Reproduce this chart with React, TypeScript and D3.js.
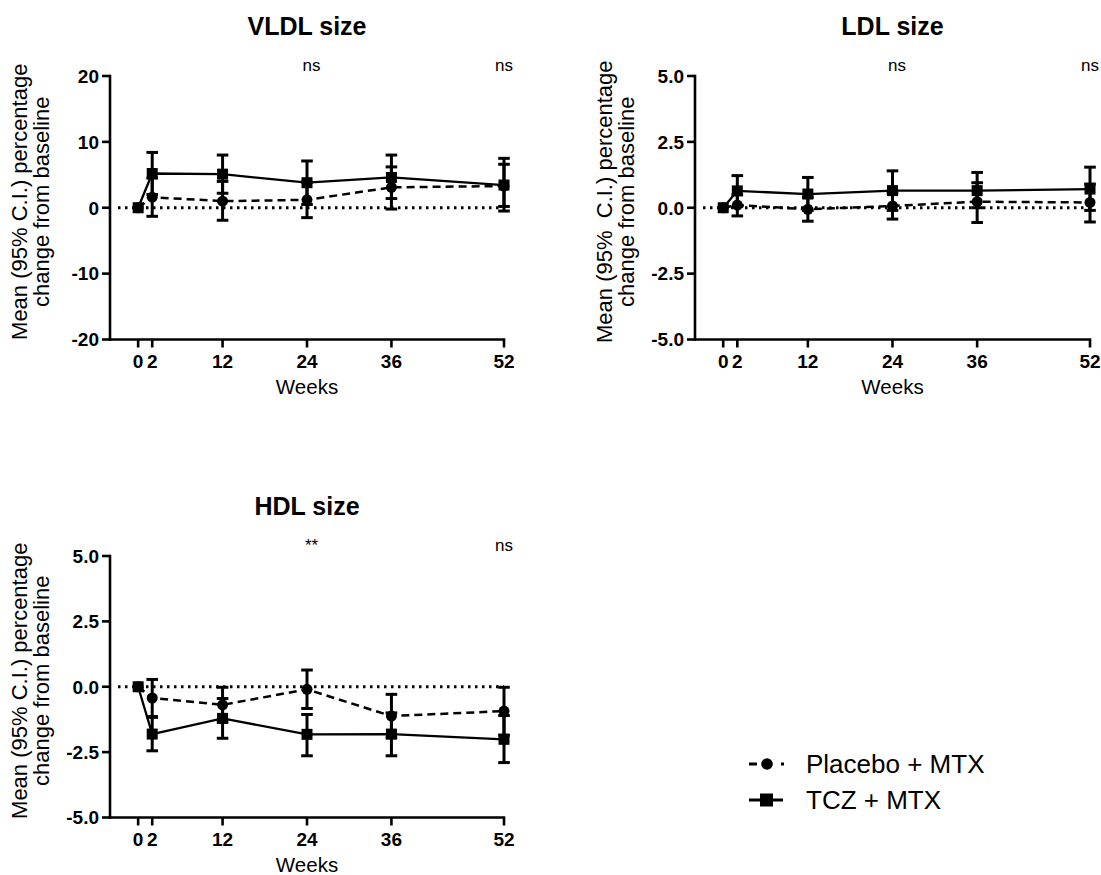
import React from "react";
import * as d3 from "d3";

// ---------- data ----------
const weeks = [0, 2, 12, 24, 36, 52];
const weekTickLabels = ["0", "2", "12", "24", "36", "52"];

const vldlPlacebo = [0, 1.6, 1.0, 1.2, 3.1, 3.3];
const vldlPlaceboLo = [0, -1.3, -1.9, -1.5, -0.2, 0.2];
const vldlPlaceboHi = [0, 4.5, 4.0, 3.9, 6.2, 6.6];
const vldlTcz = [0, 5.2, 5.1, 3.8, 4.6, 3.45];
const vldlTczLo = [0, 2.0, 2.2, 0.5, 1.4, -0.5];
const vldlTczHi = [0, 8.4, 8.0, 7.1, 8.0, 7.5];

const ldlPlacebo = [0, 0.1, -0.06, 0.07, 0.23, 0.2];
const ldlPlaceboLo = [0, -0.31, -0.51, -0.43, -0.56, -0.54];
const ldlPlaceboHi = [0, 0.5, 0.4, 0.55, 0.95, 0.9];
const ldlTcz = [0, 0.64, 0.52, 0.65, 0.65, 0.71];
const ldlTczLo = [0, 0.05, -0.1, -0.1, 0.0, -0.1];
const ldlTczHi = [0, 1.22, 1.15, 1.4, 1.34, 1.54];

const hdlPlacebo = [0, -0.43, -0.69, -0.1, -1.12, -0.93];
const hdlPlaceboLo = [0, -1.14, -1.35, -0.83, -1.95, -1.85];
const hdlPlaceboHi = [0, 0.28, -0.02, 0.64, -0.29, -0.02];
const hdlTcz = [0, -1.81, -1.21, -1.82, -1.81, -2.01];
const hdlTczLo = [0, -2.45, -1.97, -2.64, -2.64, -2.9];
const hdlTczHi = [0, -1.17, -0.45, -1.06, -1.0, -1.1];

const vldlTicks = [-20, -10, 0, 10, 20];
const sizeTicks = [-5, -2.5, 0, 2.5, 5];

const annotationWeeks = [24, 52];
const vldlAnnot = ["ns", "ns"];
const ldlAnnot = ["ns", "ns"];
const hdlAnnot = ["**", "ns"];

const seriesNames = ["Placebo + MTX", "TCZ + MTX"];

const FONT = "'Liberation Sans', Arial, Helvetica, sans-serif";

type Series = { v: number[]; lo: number[]; hi: number[] };

interface PanelProps {
  title: string;
  left: number;
  right: number;
  top: number;
  bottom: number;
  yDomain: [number, number];
  yTicks: number[];
  fmt: (d: number) => string;
  placebo: Series;
  tcz: Series;
  annot: string[];
  ylabel1: string;
}

function Panel(p: PanelProps) {
  const x = d3.scaleLinear().domain([-4, 52]).range([p.left, p.right]);
  const y = d3.scaleLinear().domain(p.yDomain).range([p.bottom, p.top]);
  const cx = (p.left + p.right) / 2;
  const cy = (p.top + p.bottom) / 2 - 6;
  const line = d3
    .line<number>()
    .x((_, i) => x(weeks[i]))
    .y((d) => y(d));

  const errBars = (s: Series, key: string) =>
    weeks.map((w, i) =>
      s.lo[i] === s.hi[i] ? null : (
        <g key={key + i} stroke="#000" strokeWidth={3}>
          <line x1={x(w)} x2={x(w)} y1={y(s.lo[i])} y2={y(s.hi[i])} />
          <line x1={x(w) - 5.8} x2={x(w) + 5.8} y1={y(s.lo[i])} y2={y(s.lo[i])} />
          <line x1={x(w) - 5.8} x2={x(w) + 5.8} y1={y(s.hi[i])} y2={y(s.hi[i])} />
        </g>
      )
    );

  return (
    <g fontFamily={FONT}>
      <text x={cx} y={p.top - 41} textAnchor="middle" fontSize={25} fontWeight="bold">
        {p.title}
      </text>
      {annotationWeeks.map((w, i) => (
        <text
          key={"a" + i}
          x={x(w) + (i === 0 ? 4.5 : 0)}
          y={p.top - 5}
          textAnchor="middle"
          fontSize={17}
        >
          {p.annot[i]}
        </text>
      ))}
      {/* zero reference */}
      <line
        x1={p.left + 8}
        x2={x(52)}
        y1={y(0)}
        y2={y(0)}
        stroke="#000"
        strokeWidth={2.8}
        strokeDasharray="2.5 4.5"
      />
      {/* axes */}
      <line x1={p.left} x2={p.left} y1={p.top - 1.2} y2={p.bottom + 1.2} stroke="#000" strokeWidth={2.6} />
      <line x1={p.left - 1.2} x2={x(52) + 1.2} y1={p.bottom} y2={p.bottom} stroke="#000" strokeWidth={2.6} />
      {p.yTicks.map((t) => (
        <g key={"yt" + t}>
          <line x1={p.left - 8} x2={p.left} y1={y(t)} y2={y(t)} stroke="#000" strokeWidth={2.6} />
          <text
            x={p.left - 11}
            y={y(t)}
            dy="0.36em"
            textAnchor="end"
            fontSize={19}
            fontWeight="bold"
          >
            {p.fmt(t)}
          </text>
        </g>
      ))}
      {weeks.map((w, i) => (
        <g key={"xt" + w}>
          <line x1={x(w)} x2={x(w)} y1={p.bottom} y2={p.bottom + 8} stroke="#000" strokeWidth={2.6} />
          <text x={x(w)} y={p.bottom + 28.5} textAnchor="middle" fontSize={19} fontWeight="bold">
            {weekTickLabels[i]}
          </text>
        </g>
      ))}
      <text x={cx} y={p.bottom + 54} textAnchor="middle" fontSize={20.5}>
        Weeks
      </text>
      <text
        transform={`translate(${p.left - 83},${cy}) rotate(-90)`}
        textAnchor="middle"
        fontSize={22}
        style={{ whiteSpace: "pre" }}
      >
        {p.ylabel1}
      </text>
      <text
        transform={`translate(${p.left - 61},${cy}) rotate(-90)`}
        textAnchor="middle"
        fontSize={22}
      >
        change from baseline
      </text>
      {/* error bars */}
      {errBars(p.placebo, "pe")}
      {errBars(p.tcz, "te")}
      {/* lines */}
      <path d={line(p.placebo.v) || ""} fill="none" stroke="#000" strokeWidth={2.5} strokeDasharray="8 5" />
      <path d={line(p.tcz.v) || ""} fill="none" stroke="#000" strokeWidth={2.3} />
      {/* markers */}
      {weeks.map((w, i) => (
        <circle key={"pc" + i} cx={x(w)} cy={y(p.placebo.v[i])} r={5.5} fill="#000" />
      ))}
      {weeks.map((w, i) => (
        <rect
          key={"tr" + i}
          x={x(w) - 5.5}
          y={y(p.tcz.v[i]) - 5.5}
          width={11}
          height={11}
          fill="#000"
        />
      ))}
    </g>
  );
}

function Legend() {
  const lx = 749;
  const ly1 = 764;
  const ly2 = 800;
  return (
    <g fontFamily={FONT}>
      <line x1={lx} x2={lx + 8} y1={ly1} y2={ly1} stroke="#000" strokeWidth={3} />
      <circle cx={lx + 18} cy={ly1} r={5.8} fill="#000" />
      <rect x={lx + 32} y={ly1 - 1.5} width={3} height={3} fill="#000" />
      <text x={806} y={ly1 + 9} fontSize={26}>
        {seriesNames[0]}
      </text>
      <line x1={lx} x2={lx + 34} y1={ly2} y2={ly2} stroke="#000" strokeWidth={3} />
      <rect x={lx + 11} y={ly2 - 6.5} width={13} height={13} fill="#000" />
      <text x={806} y={ly2 + 9} fontSize={26}>
        {seriesNames[1]}
      </text>
    </g>
  );
}

export default function App() {
  const hy = (s: string) => s.replace(/\u2212/g, "-");
  const f0 = (d: number) => hy(d3.format("d")(d));
  const f1 = (d: number) => hy(d3.format(".1f")(d));
  return (
    <svg
      width={1101}
      height={875}
      style={{ position: "absolute", left: 0, top: 0, background: "#fff" }}
    >
      <rect width={1101} height={875} fill="#fff" />
      <Panel
        title="VLDL size"
        left={110}
        right={504}
        top={76}
        bottom={339.5}
        yDomain={[-20, 20]}
        yTicks={vldlTicks}
        fmt={f0}
        placebo={{ v: vldlPlacebo, lo: vldlPlaceboLo, hi: vldlPlaceboHi }}
        tcz={{ v: vldlTcz, lo: vldlTczLo, hi: vldlTczHi }}
        annot={vldlAnnot}
        ylabel1="Mean (95% C.I.) percentage"
      />
      <Panel
        title="LDL size"
        left={695}
        right={1090}
        top={76}
        bottom={339.5}
        yDomain={[-5, 5]}
        yTicks={sizeTicks}
        fmt={f1}
        placebo={{ v: ldlPlacebo, lo: ldlPlaceboLo, hi: ldlPlaceboHi }}
        tcz={{ v: ldlTcz, lo: ldlTczLo, hi: ldlTczHi }}
        annot={ldlAnnot}
        ylabel1="Mean (95%  C.I.) percentage"
      />
      <Panel
        title="HDL size"
        left={110}
        right={504}
        top={556}
        bottom={817.5}
        yDomain={[-5, 5]}
        yTicks={sizeTicks}
        fmt={f1}
        placebo={{ v: hdlPlacebo, lo: hdlPlaceboLo, hi: hdlPlaceboHi }}
        tcz={{ v: hdlTcz, lo: hdlTczLo, hi: hdlTczHi }}
        annot={hdlAnnot}
        ylabel1="Mean (95% C.I.) percentage"
      />
      <Legend />
    </svg>
  );
}
